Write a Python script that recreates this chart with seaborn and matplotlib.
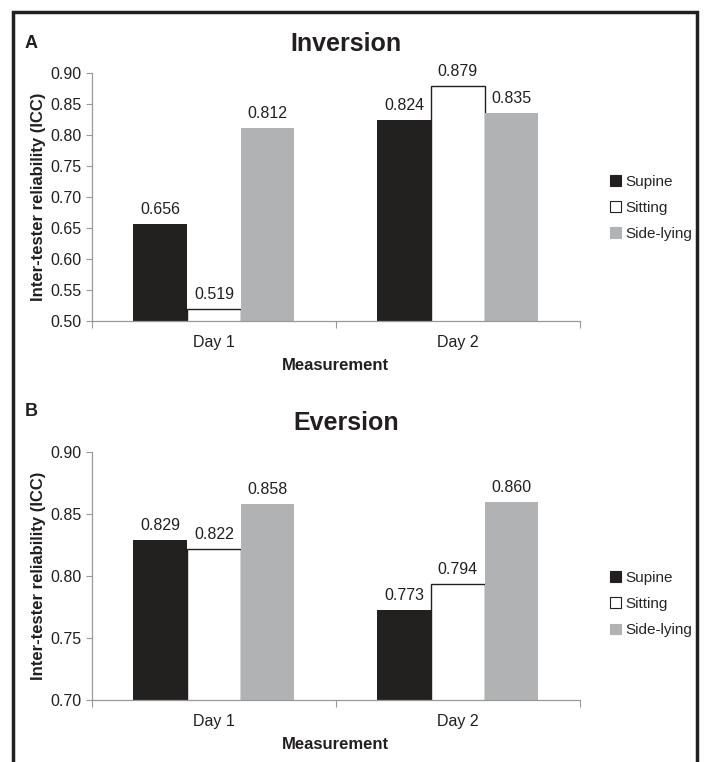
import matplotlib
matplotlib.use("Agg")
import matplotlib.pyplot as plt
import seaborn as sns
import pandas as pd
from matplotlib.patches import Patch, Rectangle
from matplotlib.ticker import FixedLocator

days = ["Day 1", "Day 2"]
positions = ["Supine", "Sitting", "Side-lying"]
inversion_supine = [0.656, 0.824]
inversion_sitting = [0.519, 0.879]
inversion_sidelying = [0.812, 0.835]
eversion_supine = [0.829, 0.773]
eversion_sitting = [0.822, 0.794]
eversion_sidelying = [0.858, 0.860]
inv_ticks = [0.50, 0.55, 0.60, 0.65, 0.70, 0.75, 0.80, 0.85, 0.90]
ev_ticks = [0.70, 0.75, 0.80, 0.85, 0.90]

sns.set_theme(style="white")
plt.rcParams['font.family'] = ['Liberation Sans', 'DejaVu Sans']

colors = {"Supine": "#231f20", "Sitting": "#ffffff", "Side-lying": "#b1b2b4"}

def make_df(a, b, c):
    rows = []
    for i, d in enumerate(days):
        rows.append((d, "Supine", a[i]))
        rows.append((d, "Sitting", b[i]))
        rows.append((d, "Side-lying", c[i]))
    return pd.DataFrame(rows, columns=["Day", "Position", "ICC"])

fig = plt.figure(figsize=(7.05, 7.62), dpi=100)
ax1 = fig.add_axes([0.1305, 0.579, 0.692, 0.325])
ax2 = fig.add_axes([0.1305, 0.0814, 0.692, 0.325])

panels = [
    (ax1, make_df(inversion_supine, inversion_sitting, inversion_sidelying), inv_ticks, "Inversion", 0.456),
    (ax2, make_df(eversion_supine, eversion_sitting, eversion_sidelying), ev_ticks, "Eversion", 0.387),
]

for ax, df, ticks, title, leg_y in panels:
    sns.barplot(data=df, x="Day", y="ICC", hue="Position", hue_order=positions,
                order=days, palette=colors, width=0.66, ax=ax, legend=False,
                edgecolor="none", linewidth=0, gap=0)
    for cont, pos in zip(ax.containers, positions):
        if pos == "Sitting":
            for p in cont:
                p.set_edgecolor("#231f20")
                p.set_linewidth(1.0)
        ax.bar_label(cont, fmt="%.3f", padding=5, fontsize=11.5, color="#231f20")
    ax.set_ylim(ticks[0], ticks[-1])
    ax.set_yticks(ticks)
    ax.set_yticklabels([f"{t:.2f}" for t in ticks], fontsize=11.5, color="#231f20")
    ax.set_xlim(-0.5, 1.5)
    ax.tick_params(axis="x", which="major", length=0, labelsize=11.5, pad=10, labelcolor="#231f20")
    ax.xaxis.set_minor_locator(FixedLocator([-0.5, 0.5, 1.5]))
    ax.tick_params(axis="x", which="minor", length=5, width=0.8, color="#999999", direction="out", bottom=True)
    ax.tick_params(axis="y", length=4, width=0.8, color="#999999", direction="out", left=True)
    for s in ["top", "right"]:
        ax.spines[s].set_visible(False)
    for s in ["left", "bottom"]:
        ax.spines[s].set_color("#999999")
        ax.spines[s].set_linewidth(0.9)
    ax.set_xlabel("Measurement", fontsize=12, fontweight="bold", color="#231f20", labelpad=6)
    ax.set_ylabel("Inter-tester reliability (ICC)", fontsize=12, fontweight="bold", color="#231f20", labelpad=3)
    ax.set_title(title, fontsize=18, fontweight="bold", color="#231f20", pad=16, x=0.52)
    ax.grid(False)
    handles = [Patch(facecolor=colors[p], edgecolor="#231f20" if p == "Sitting" else colors[p], linewidth=0.8) for p in positions]
    ax.legend(handles, positions, loc="center left", bbox_to_anchor=(1.049, leg_y), frameon=False,
              fontsize=11, handlelength=0.7, handleheight=0.7, handletextpad=0.3, labelspacing=0.8,
              borderaxespad=0.0)

fig.text(0.035, 0.937, "A", fontsize=13, fontweight="bold", color="#231f20")
fig.text(0.035, 0.454, "B", fontsize=13, fontweight="bold", color="#231f20")

fig.add_artist(Rectangle((0.018, -0.02), 0.97, 1.004, transform=fig.transFigure,
                         fill=False, edgecolor="#231f20", linewidth=2.5))

fig.savefig("out.png", dpi=100)
